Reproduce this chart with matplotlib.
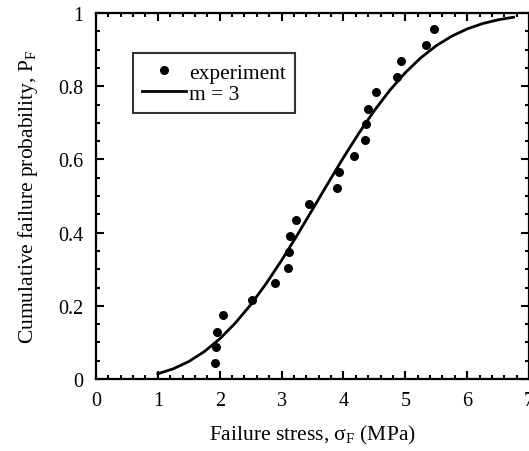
import numpy as np
import matplotlib
matplotlib.use('Agg')
from matplotlib import pyplot as plt
from matplotlib.ticker import MultipleLocator

# measured failure stresses (MPa) and their cumulative failure probabilities
stress_exp = [1.92, 1.94, 1.95, 2.06, 2.52, 2.89, 3.11, 3.12, 3.14, 3.23, 3.44,
              3.90, 3.93, 4.17, 4.35, 4.37, 4.39, 4.52, 4.87, 4.93, 5.33, 5.46]
prob_exp = [0.044, 0.087, 0.129, 0.174, 0.217, 0.261, 0.304, 0.348, 0.391, 0.435, 0.478,
            0.522, 0.565, 0.609, 0.652, 0.696, 0.739, 0.783, 0.826, 0.870, 0.913, 0.957]

# Weibull curve, m = 3
stress_fit = [1.0, 1.25, 1.5, 1.75, 2.0, 2.25, 2.5, 2.75, 3.0, 3.25, 3.5, 3.75,
              4.0, 4.25, 4.5, 4.75, 5.0, 5.25, 5.5, 5.75, 6.0, 6.25, 6.5, 6.75]
prob_fit = [0.0144, 0.0279, 0.0478, 0.0748, 0.1096, 0.1524, 0.2028, 0.2605,
            0.3241, 0.3923, 0.4632, 0.5347, 0.6049, 0.6717, 0.7335, 0.7888,
            0.8369, 0.8775, 0.9106, 0.9366, 0.9565, 0.9711, 0.9814, 0.9885]

x_ticks = [0, 1, 2, 3, 4, 5, 6, 7]
y_ticks = [0, 0.2, 0.4, 0.6, 0.8, 1]
y_tick_labels = ['0', '0.2', '0.4', '0.6', '0.8', '1']

plt.rcParams['font.family'] = ['Liberation Serif', 'DejaVu Serif']
plt.rcParams['mathtext.fontset'] = 'custom'
plt.rcParams['mathtext.rm'] = 'Liberation Serif'
plt.rcParams['mathtext.it'] = 'Liberation Serif:italic'

W, H = 529, 452
fig = plt.figure(figsize=(W / 100, H / 100), dpi=100)
ax = fig.add_axes([96 / W, 72 / H, 433 / W, 366 / H])

ax.plot(stress_fit, prob_fit, color='black', lw=2.0, label='m = 3', zorder=2)
ax.plot(stress_exp, prob_exp, 'o', color='black', ms=6.5, mew=0, label='experiment', zorder=3)

ax.set_xlim(0, 7)
ax.set_ylim(0, 1)
ax.set_xticks(x_ticks)
ax.set_yticks(y_ticks)
ax.set_yticklabels(y_tick_labels)
ax.xaxis.set_minor_locator(MultipleLocator(0.2))
ax.yaxis.set_minor_locator(MultipleLocator(0.05))

ax.tick_params(which='both', direction='in', top=True, right=True, width=1.5, labelsize=14.5)
ax.tick_params(which='major', length=6)
ax.tick_params(which='minor', length=3)
ax.tick_params(axis='x', pad=9)
ax.tick_params(axis='y', pad=9)
for sp in ax.spines.values():
    sp.set_linewidth(1.6)

ax.set_xlabel('Failure stress, σ$_\\mathrm{F}$ (MPa)', fontsize=15.5, labelpad=9)
ax.set_ylabel('Cumulative failure probability, P$_\\mathrm{F}$', fontsize=15.5, labelpad=13)

handles, labels = ax.get_legend_handles_labels()
leg = ax.legend(handles[::-1], labels[::-1], loc='upper left',
                bbox_to_anchor=(0.085, 0.891), borderaxespad=0,
                fontsize=15.5, frameon=True, fancybox=False, edgecolor='black',
                handlelength=2.0, handletextpad=0.15, labelspacing=0.05,
                borderpad=0.45)
leg.get_frame().set_linewidth(1.5)

fig.savefig('out.png', dpi=100)
